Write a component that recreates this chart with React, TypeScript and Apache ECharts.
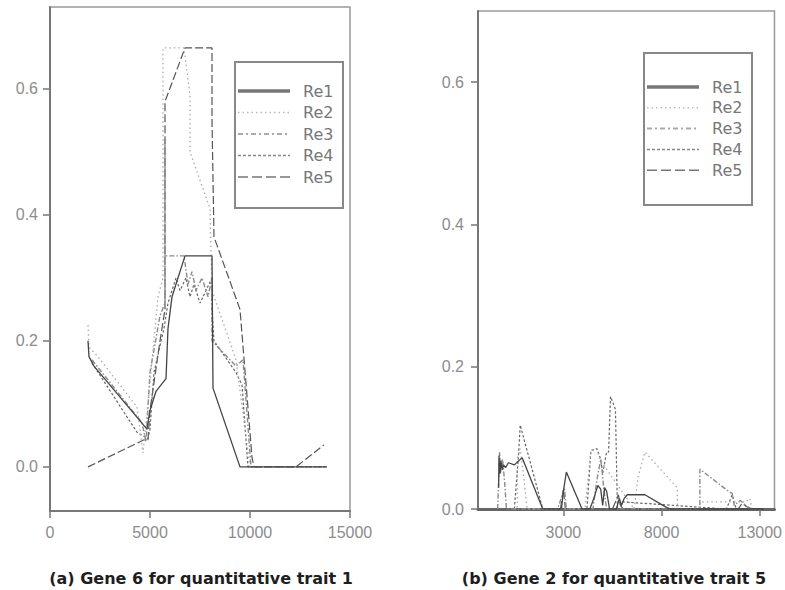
import React, { useEffect, useRef } from 'react';
import * as echarts from 'echarts';

const seriesNames = ['Re1', 'Re2', 'Re3', 'Re4', 'Re5'];

// (a) Gene 6 for quantitative trait 1
const aXTicks = [0, 5000, 10000, 15000];
const aYTicks = [0, 0.2, 0.4, 0.6];
const aRe1X = [1900, 1950, 2200, 4850, 5000, 5300, 5800, 5900, 6100, 6750, 8100, 8150, 9500, 13850];
const aRe1Y = [0.2, 0.175, 0.16, 0.06, 0.09, 0.12, 0.14, 0.22, 0.27, 0.335, 0.335, 0.125, 0, 0];
const aRe2X = [1900, 1950, 2400, 4350, 4650, 4900, 5400, 5650, 5650, 6700, 7000, 7000, 8000, 8100, 9300, 10000];
const aRe2Y = [0.225, 0.19, 0.175, 0.095, 0.022, 0.1, 0.27, 0.3, 0.665, 0.665, 0.59, 0.5, 0.41, 0.28, 0.17, 0];
const aRe3X = [2100, 4600, 4800, 5000, 5500, 5750, 5750, 5750, 6700, 6900, 7100, 7300, 7600, 7900, 8100, 8100, 9300, 9650, 10050, 13800];
const aRe3Y = [0.17, 0.07, 0.04, 0.15, 0.24, 0.26, 0.52, 0.335, 0.335, 0.29, 0.31, 0.28, 0.3, 0.27, 0.3, 0.2, 0.16, 0.17, 0, 0];
const aRe4X = [2100, 4350, 4900, 5000, 5200, 5700, 5900, 6300, 6500, 6800, 7000, 7200, 7500, 7800, 8100, 8100, 8200, 9300, 9600, 9900, 13800];
const aRe4Y = [0.165, 0.055, 0.045, 0.06, 0.15, 0.22, 0.26, 0.3, 0.28, 0.3, 0.27, 0.29, 0.26, 0.28, 0.3, 0.25, 0.2, 0.15, 0.13, 0, 0];
const aRe5X = [1900, 4700, 4900, 5000, 5500, 5750, 5750, 6750, 8100, 8100, 8200, 9500, 10100, 10200, 12300, 13700];
const aRe5Y = [0, 0.043, 0.043, 0.09, 0.2, 0.25, 0.58, 0.665, 0.665, 0.55, 0.365, 0.25, 0.015, 0, 0, 0.035];

// (b) Gene 2 for quantitative trait 5
const bXTicks = [3000, 8000, 13000];
const bYTicks = [0, 0.2, 0.4, 0.6];
const bRe1X = [-300, -280, -230, -180, -120, -50, 50, 200, 500, 900, 1950, 2900, 3000, 3150, 3950, 4350, 4550, 4750, 4900, 5000, 5100, 5200, 5350, 5700, 5850, 5950, 6100, 6250, 7150, 8200, 8450, 13200];
const bRe1Y = [0.03, 0.075, 0.05, 0.068, 0.055, 0.062, 0.058, 0.065, 0.062, 0.072, 0, 0, 0.025, 0.052, 0, 0, 0.015, 0.033, 0.028, 0.005, 0.03, 0.025, 0, 0, 0.015, 0.005, 0.015, 0.02, 0.02, 0.003, 0, 0];
const bRe2X = [500, 650, 650, 800, 1000, 1150, 4100, 4400, 4700, 4850, 6600, 6800, 7150, 8800, 8800, 9900, 10000, 12300, 12500, 12600];
const bRe2Y = [0, 0, 0.07, 0.085, 0.04, 0, 0, 0.082, 0.085, 0.07, 0, 0.045, 0.08, 0.03, 0, 0, 0.01, 0.01, 0.015, 0];
const bRe3X = [-350, -300, -250, -200, -100, 0, 100, 2700, 2950, 3050, 3150, 4500, 4700, 4900, 4950, 5050, 5200, 9950, 9950, 11450, 11600, 11700, 12000, 12300, 12500];
const bRe3Y = [0, 0.04, 0.08, 0.05, 0.07, 0.04, 0, 0, 0.02, 0.03, 0, 0, 0.04, 0.07, 0.06, 0.03, 0, 0, 0.056, 0.024, 0.022, 0.005, 0.012, 0.005, 0];
const bRe4X = [500, 700, 800, 1950, 4200, 4400, 4700, 4900, 5000, 5200, 5300, 5400, 5650, 5750, 5900, 6000, 11300, 11600, 11800];
const bRe4Y = [0, 0.07, 0.118, 0, 0, 0.082, 0.085, 0.07, 0.05, 0.08, 0.08, 0.158, 0.14, 0, 0, 0.01, 0, 0.02, 0];
const bRe5X = [2850, 3000, 3100, 5500, 5650, 5800, 5900, 6050, 11900, 12100, 12300, 12600];
const bRe5Y = [0, 0.028, 0, 0, 0.01, 0.02, 0.005, 0, 0, 0.008, 0.004, 0];

const captionA = '(a) Gene 6 for quantitative trait 1';
const captionB = '(b) Gene 2 for quantitative trait 5';

const zip = (xs: number[], ys: number[]) => xs.map((x, i) => [x, ys[i]]);

const plotStyles: any[] = [
  { color: '#444', width: 1.3, type: 'solid' },
  { color: '#aaa', width: 1.3, type: [1.5, 3] },
  { color: '#8a8a8a', width: 1.4, type: [5, 2, 1.5, 2] },
  { color: '#666', width: 1.2, type: [2.5, 2] },
  { color: '#555', width: 1.2, type: [8, 3] },
];
const legendStyles: any[] = [
  { stroke: '#777', lineWidth: 3.5 },
  { stroke: '#bbb', lineWidth: 1.5, lineDash: [1.5, 3] },
  { stroke: '#aaa', lineWidth: 2, lineDash: [5, 3, 2, 3] },
  { stroke: '#888', lineWidth: 1.5, lineDash: [3, 2] },
  { stroke: '#777', lineWidth: 1.5, lineDash: [10, 4] },
];

const FONT = 'Liberation Sans, Arial, sans-serif';
const DEJAVU = 'DejaVu Sans, sans-serif';

function legendGraphic(x: number, y: number, w: number, h: number, firstY: number, step: number) {
  const children: any[] = [
    { type: 'rect', shape: { x, y, width: w, height: h }, style: { fill: '#fff', stroke: '#888', lineWidth: 2 } },
  ];
  seriesNames.forEach((name, i) => {
    const cy = firstY + i * step;
    children.push({
      type: 'line',
      shape: { x1: x + 3, y1: cy, x2: x + 55, y2: cy },
      style: { ...legendStyles[i], fill: null },
    });
    children.push({
      type: 'text',
      x: x + 68,
      y: cy,
      style: { text: name, fill: '#777', font: `16px ${DEJAVU}`, verticalAlign: 'middle', align: 'left' },
    });
  });
  return { type: 'group', children };
}

export default function App() {
  const ref = useRef<HTMLDivElement>(null);
  useEffect(() => {
    if (!ref.current) return;
    const chart = echarts.init(ref.current, null, { renderer: 'svg' });
    const aData = [zip(aRe1X, aRe1Y), zip(aRe2X, aRe2Y), zip(aRe3X, aRe3Y), zip(aRe4X, aRe4Y), zip(aRe5X, aRe5Y)];
    const bData = [zip(bRe1X, bRe1Y), zip(bRe2X, bRe2Y), zip(bRe3X, bRe3Y), zip(bRe4X, bRe4Y), zip(bRe5X, bRe5Y)];
    const axisCommon = {
      axisLine: { show: true, onZero: false, lineStyle: { color: '#777', width: 2 } },
      axisTick: { show: true, inside: false, length: 7, lineStyle: { color: '#777', width: 1.5 } },
      splitLine: { show: false },
    };
    const labelCommon = { color: '#8c8c8c', fontSize: 16, fontFamily: FONT };
    const series: any[] = [];
    [aData, bData].forEach((set, gi) => {
      set.forEach((d, i) => {
        series.push({
          type: 'line',
          name: seriesNames[i],
          xAxisIndex: gi,
          yAxisIndex: gi,
          data: d,
          showSymbol: false,
          symbol: 'none',
          silent: true,
          z: 10 - i,
          lineStyle: plotStyles[i],
        });
      });
    });
    chart.setOption({
      animation: false,
      backgroundColor: '#fff',
      grid: [
        { left: 50, top: 7, width: 300, height: 504, show: true, borderColor: '#999', borderWidth: 1.5 },
        { left: 478, top: 11, width: 299, height: 498, show: true, borderColor: '#999', borderWidth: 1.5 },
      ],
      xAxis: [
        {
          ...axisCommon,
          type: 'value', gridIndex: 0, min: 0, max: 15000, interval: 5000,
          axisLabel: { ...labelCommon, margin: 13, formatter: (v: number) => String(v), customValues: aXTicks },
          axisTick: { ...axisCommon.axisTick, customValues: aXTicks },
        },
        {
          ...axisCommon,
          type: 'value', gridIndex: 1, min: -1350, max: 13750,
          axisLine: { show: true, onZero: false, lineStyle: { color: '#666', width: 3 } },
          axisLabel: { ...labelCommon, margin: 15, formatter: (v: number) => String(v), customValues: bXTicks },
          axisTick: { ...axisCommon.axisTick, customValues: bXTicks },
        },
      ],
      yAxis: [
        {
          ...axisCommon,
          type: 'value', gridIndex: 0, min: -0.07, max: 0.73,
          axisLabel: { ...labelCommon, margin: 12, formatter: (v: number) => v.toFixed(1), customValues: aYTicks },
          axisTick: { ...axisCommon.axisTick, customValues: aYTicks },
        },
        {
          ...axisCommon,
          type: 'value', gridIndex: 1, min: 0, max: 0.7, interval: 0.2,
          axisLabel: { ...labelCommon, margin: 14, formatter: (v: number) => v.toFixed(1), customValues: bYTicks },
          axisTick: { ...axisCommon.axisTick, customValues: bYTicks },
        },
      ],
      series,
      graphic: [
        legendGraphic(235, 62, 108, 146, 91, 21.5),
        legendGraphic(644, 53, 108, 152, 87, 20.8),
        { type: 'text', x: 201, y: 578, style: { text: captionA, fill: '#1e1e1e', font: `bold 16px ${DEJAVU}`, align: 'center', verticalAlign: 'middle' } },
        { type: 'text', x: 614, y: 578, style: { text: captionB, fill: '#1e1e1e', font: `bold 16px ${DEJAVU}`, align: 'center', verticalAlign: 'middle' } },
      ],
    });
    return () => chart.dispose();
  }, []);
  return <div ref={ref} style={{ position: 'fixed', left: 0, top: 0, width: 785, height: 590 }} />;
}
